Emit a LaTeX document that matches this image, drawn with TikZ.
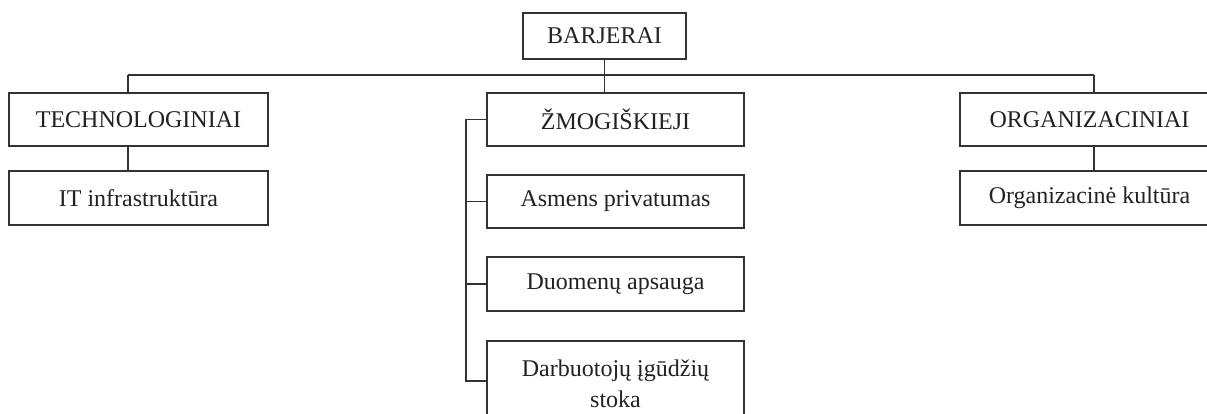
\documentclass[tikz,border=0pt]{standalone}
\usepackage{fontspec}
\setmainfont{Liberation Serif}
\definecolor{ln}{HTML}{333333}
\definecolor{tx}{HTML}{222222}
\begin{document}
\begin{tikzpicture}[x=0.75pt,y=-0.75pt,
  box/.style={draw=ln,line width=1.1pt,fill=white,text=tx,inner sep=0pt,
    minimum width=257*0.75pt,minimum height=53*0.75pt,align=center,
    font=\fontsize{18pt}{24pt}\selectfont},
  conn/.style={draw=ln,line width=1.1pt}]
\useasboundingbox (0,0) rectangle (1207,414);
\clip (0,0) rectangle (1207,414);
\fill[white] (0,0) rectangle (1207,414);
% top
\node[box,minimum width=163*0.75pt,minimum height=46*0.75pt] (bar) at (604.5,36) {BARJERAI};
% left column
\node[box,minimum width=259*0.75pt] (tech) at (138.5,119.5) {TECHNOLOGINIAI};
\node[box,minimum width=259*0.75pt,minimum height=54*0.75pt] (it) at (138.5,198) {IT infrastruktūra};
% middle column
\node[box] (zmo) at (615.5,119.5) {ŽMOGIŠKIEJI};
\node[box] (asm) at (615.5,201.5) {Asmens privatumas};
\node[box,minimum height=54*0.75pt] (duo) at (615.5,284) {Duomenų apsauga};
\node[box,minimum height=86*0.75pt] (dar) at (615.5,384) {Darbuotojų įgūdžių\\[-1pt]stoka};
% right column
\node[box,minimum width=259*0.75pt] (org) at (1089.5,119.5) {ORGANIZACINIAI};
\node[box,minimum width=259*0.75pt,minimum height=54*0.75pt] (okul) at (1089.5,198) {Organizacinė kultūra};
% connectors
\coordinate (bl) at (128,75);
\coordinate (br) at (1094,75);
\coordinate (sp) at (466,119.5);
\draw[conn] (bl) -- (br);
\draw[conn] (bar.south) -- (bar.south |- zmo.north);
\draw[conn] (bl) -- (bl |- tech.north);
\draw[conn] (br) -- (br |- org.north);
\draw[conn] (tech.south -| bl) -- (it.north -| bl);
\draw[conn] (org.south -| br) -- (okul.north -| br);
\draw[conn] (zmo.west) -- (sp) |- ([yshift=2.25pt]dar.west);
\draw[conn] (sp) |- (asm.west);
\draw[conn] (sp) |- (duo.west);
\end{tikzpicture}
\end{document}
